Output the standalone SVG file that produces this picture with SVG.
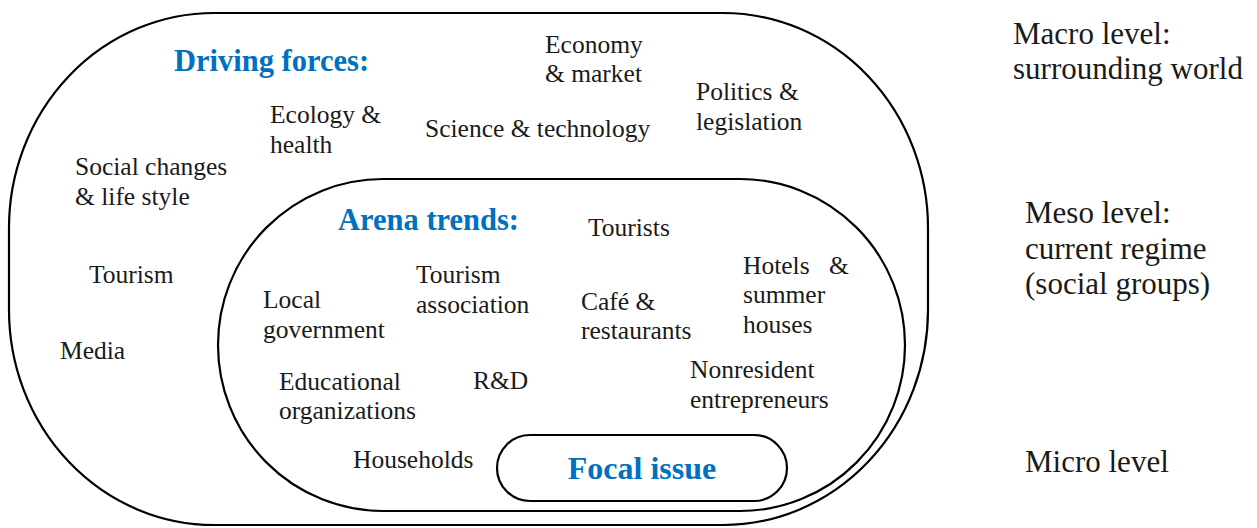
<svg xmlns="http://www.w3.org/2000/svg" width="1257" height="528" viewBox="0 0 1257 528">
<style>
.shape{fill:none;stroke:#000;stroke-width:2.2}
.t,.lvl,.h{font-family:'Liberation Serif','DejaVu Serif',serif;font-style:normal}
.t{font-size:25.5px;font-weight:400;fill:#1a1a1a}
.lvl{font-size:31px;font-weight:400;fill:#1a1a1a}
.h{font-size:30.5px;font-weight:700;fill:#0070C0}
.fh{font-size:32px}
</style>
<rect width="1257" height="528" fill="#fff"/>
<g id="outer"><rect class="shape" x="9" y="13" width="919" height="512" rx="205" ry="215"/></g>
<g id="inner"><rect class="shape" x="218" y="179" width="687" height="332" rx="165" ry="166"/></g>
<g id="focal"><rect class="shape" x="497" y="435" width="290" height="66" rx="33" ry="33"/>
<text class="h fh" x="642" y="479" text-anchor="middle">Focal issue</text></g>
<g id="driving"><text class="h" x="174" y="71">Driving forces:</text></g>
<g id="economy"><text class="t" x="545" y="53">Economy</text><text class="t" x="545" y="82">&amp; market</text></g>
<g id="politics"><text class="t" x="696" y="100">Politics &amp;</text><text class="t" x="696" y="130">legislation</text></g>
<g id="science"><text class="t" x="425" y="137">Science &amp; technology</text></g>
<g id="ecology"><text class="t" x="270" y="123">Ecology &amp;</text><text class="t" x="270" y="153">health</text></g>
<g id="social"><text class="t" x="75" y="175">Social changes</text><text class="t" x="75" y="205">&amp; life style</text></g>
<g id="tourism-out"><text class="t" x="89" y="283">Tourism</text></g>
<g id="media"><text class="t" x="60" y="359">Media</text></g>
<g id="arena"><text class="h" x="338" y="230">Arena trends:</text></g>
<g id="tourists"><text class="t" x="588" y="236">Tourists</text></g>
<g id="local"><text class="t" x="263" y="308">Local</text><text class="t" x="263" y="338">government</text></g>
<g id="tourism-assoc"><text class="t" x="416" y="283">Tourism</text><text class="t" x="416" y="313">association</text></g>
<g id="cafe"><text class="t" x="581" y="310">Café &amp;</text><text class="t" x="581" y="339">restaurants</text></g>
<g id="hotels"><text class="t" x="743" y="274">Hotels</text><text class="t" x="829" y="274">&amp;</text><text class="t" x="743" y="303">summer</text><text class="t" x="743" y="333">houses</text></g>
<g id="nonresident"><text class="t" x="690" y="378">Nonresident</text><text class="t" x="690" y="408">entrepreneurs</text></g>
<g id="educational"><text class="t" x="279" y="390">Educational</text><text class="t" x="279" y="419">organizations</text></g>
<g id="rd"><text class="t" x="473" y="389">R&amp;D</text></g>
<g id="households"><text class="t" x="353" y="468">Households</text></g>
<g id="macro"><text class="lvl" x="1013" y="44">Macro level:</text><text class="lvl" x="1013" y="79">surrounding world</text></g>
<g id="meso"><text class="lvl" x="1025" y="223">Meso level:</text><text class="lvl" x="1025" y="259">current regime</text><text class="lvl" x="1025" y="294">(social groups)</text></g>
<g id="micro"><text class="lvl" x="1025" y="472">Micro level</text></g>
<g id="connectors"></g>
</svg>
